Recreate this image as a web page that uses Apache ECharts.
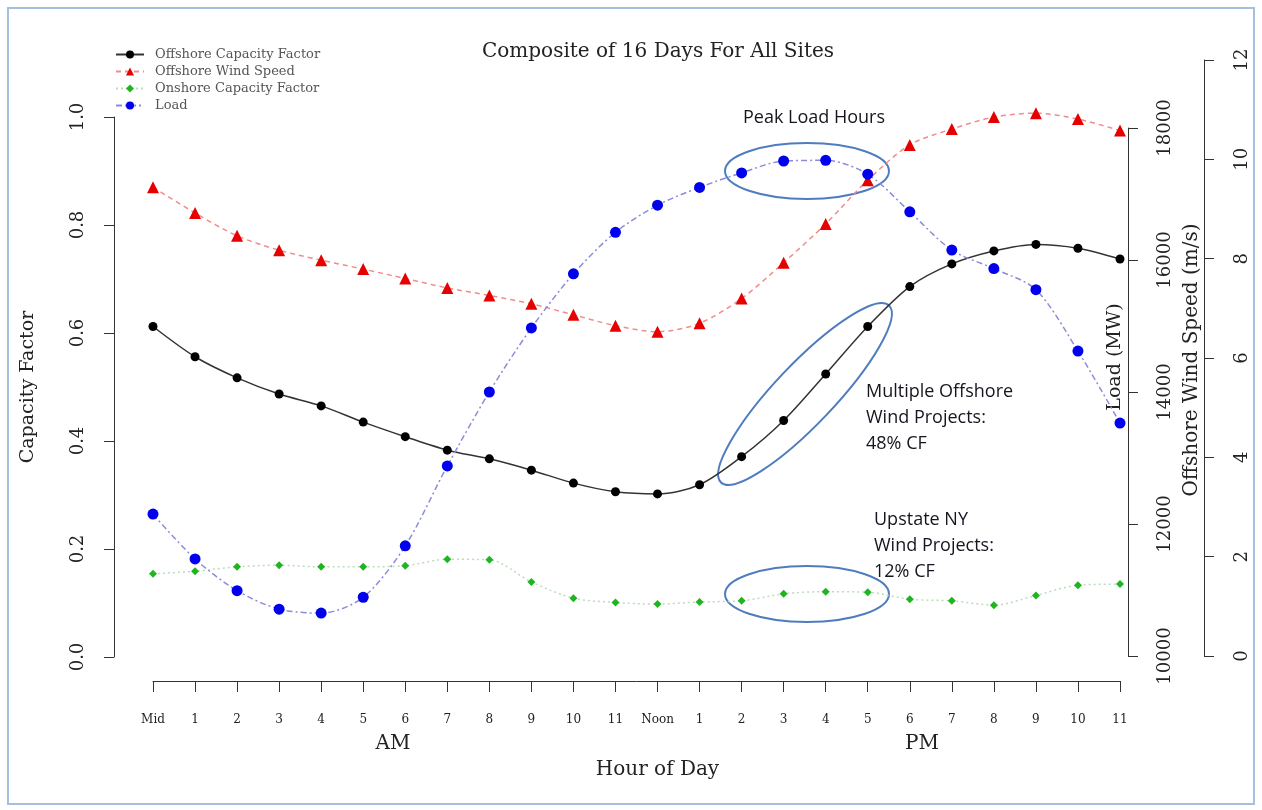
<!DOCTYPE html>
<html>
<head>
<meta charset="utf-8">
<title>Composite of 16 Days For All Sites</title>
<script src="https://cdn.jsdelivr.net/npm/echarts@6.0.0/dist/echarts.min.js"></script>
<style>
  html, body { margin: 0; padding: 0; background: #fff; }
  #chart { width: 1262px; height: 810px; }
</style>
</head>
<body>
<div id="chart"></div>
<script>
// hour of day labels, midnight to 11 PM
const hourLabels = ['Mid', '1', '2', '3', '4', '5', '6', '7', '8', '9', '10', '11',
  'Noon', '1', '2', '3', '4', '5', '6', '7', '8', '9', '10', '11']
const offshoreCF = [0.612, 0.556, 0.517, 0.487, 0.465, 0.435, 0.408, 0.383, 0.367, 0.346, 0.322, 0.306,
  0.302, 0.319, 0.371, 0.438, 0.524, 0.612, 0.686, 0.728, 0.752, 0.764, 0.757, 0.737]
const windSpeed = [9.44, 8.92, 8.46, 8.17, 7.97, 7.79, 7.60, 7.41, 7.26, 7.09, 6.87, 6.65,
  6.53, 6.70, 7.20, 7.92, 8.70, 9.58, 10.29, 10.61, 10.85, 10.93, 10.81, 10.58]
const onshoreCF = [0.154, 0.159, 0.167, 0.170, 0.167, 0.167, 0.169, 0.181, 0.180, 0.139, 0.109, 0.101,
  0.098, 0.102, 0.104, 0.117, 0.121, 0.120, 0.107, 0.104, 0.096, 0.114, 0.133, 0.135]
const loadMW = [12150, 11470, 10990, 10710, 10650, 10890, 11670, 12880, 14000, 14970, 15790, 16420,
  16830, 17100, 17320, 17500, 17510, 17300, 16730, 16150, 15870, 15550, 14620, 13530]

const serif = '"DejaVu Serif", "Liberation Serif", serif'
const sans = '"Open Sans", "Noto Sans", sans-serif'
const ink = '#222'
const ringColor = '#4f7cbf'

const toPairs = arr => arr.map((v, i) => [i, v])

// one grid per y scale, so each axis line only spans its own tick range (like R)
const grids = [
  { left: 153, right: 142, top: 117, height: 540 },
  { left: 153, right: 142, top: 128, height: 528 },
  { left: 153, right: 142, top: 60, height: 596 }
].map(g => Object.assign(g, { containLabel: false, outerBoundsMode: 'none' }))

const hiddenX = idx => ({ type: 'value', gridIndex: idx, min: 0, max: 23, show: false })

const yBase = (idx, opts) => Object.assign({
  type: 'value',
  gridIndex: idx,
  axisLine: { show: true, onZero: false, lineStyle: { color: '#333', width: 1 } },
  axisTick: { show: true, length: 10, lineStyle: { color: '#333' } },
  splitLine: { show: false },
  axisLabel: {
    rotate: 90,
    fontFamily: serif,
    fontSize: 18,
    color: ink,
    showMinLabel: true,
    showMaxLabel: true,
    formatter: v => String(v)
  }
}, opts)

const defineOption = () => {
  let option = {
    animation: false,
    backgroundColor: '#fff',
    title: {
      text: 'Composite of 16 Days For All Sites',
      left: 482,
      top: 42,
      padding: 0,
      textStyle: { fontFamily: serif, fontSize: 20, fontWeight: 'normal', color: ink }
    },
    legend: {
      orient: 'vertical',
      left: 115,
      top: 48,
      padding: 0,
      itemWidth: 28,
      itemHeight: 10,
      itemGap: 4,
      textStyle: { fontFamily: serif, fontSize: 13, color: '#555', padding: [0, 0, 0, 6] },
      data: ['Offshore Capacity Factor', 'Offshore Wind Speed', 'Onshore Capacity Factor', 'Load']
    },
    grid: grids,
    xAxis: [
      {
        type: 'value',
        gridIndex: 0,
        min: 0,
        max: 23,
        interval: 1,
        offset: 24,
        axisLine: { show: true, onZero: false, lineStyle: { color: '#333', width: 1 } },
        axisTick: { show: true, length: 11, lineStyle: { color: '#333' } },
        splitLine: { show: false },
        axisLabel: {
          fontFamily: serif,
          fontSize: 12,
          color: ink,
          margin: 33,
          showMinLabel: true,
          showMaxLabel: true,
          formatter: v => hourLabels[v]
        },
        name: 'Hour of Day',
        nameLocation: 'middle',
        nameGap: 79,
        nameTextStyle: { fontFamily: serif, fontSize: 20, color: ink, padding: [0, 0, 0, 42] }
      },
      hiddenX(1),
      hiddenX(2)
    ],
    yAxis: [
      yBase(0, {
        position: 'left',
        offset: 39,
        min: 0,
        max: 1,
        interval: 0.2,
        axisLabel: Object.assign(yBase(0).axisLabel, { margin: 27, formatter: v => v.toFixed(1) }),
        name: 'Capacity Factor',
        nameLocation: 'middle',
        nameRotate: 90,
        nameGap: 76,
        nameTextStyle: { fontFamily: serif, fontSize: 19, color: ink }
      }),
      yBase(1, {
        position: 'right',
        offset: 8,
        min: 10000,
        max: 18000,
        interval: 2000,
        axisLabel: Object.assign(yBase(1).axisLabel, { margin: 28 })
      }),
      yBase(2, {
        position: 'right',
        offset: 84,
        min: 0,
        max: 12,
        interval: 2,
        axisLabel: Object.assign(yBase(2).axisLabel, { margin: 29 })
      })
    ],
    graphic: [
      // slide frame
      { type: 'rect', silent: true, shape: { x: 8, y: 8, width: 1246, height: 796 },
        style: { fill: 'none', stroke: '#a6bfdf', lineWidth: 2 } },
      // right axis titles
      { type: 'text', x: 1115, y: 357, rotation: Math.PI / 2,
        style: { text: 'Load (MW)', fontFamily: serif, fontSize: 19, fill: ink, align: 'center', verticalAlign: 'middle' } },
      { type: 'text', x: 1192, y: 360, rotation: Math.PI / 2,
        style: { text: 'Offshore Wind Speed (m/s)', fontFamily: serif, fontSize: 20, fill: ink, align: 'center', verticalAlign: 'middle' } },
      // AM / PM under the hour labels
      { type: 'text', x: 393, y: 744,
        style: { text: 'AM', fontFamily: serif, fontSize: 20, fill: ink, align: 'center', verticalAlign: 'middle' } },
      { type: 'text', x: 922, y: 744,
        style: { text: 'PM', fontFamily: serif, fontSize: 20, fill: ink, align: 'center', verticalAlign: 'middle' } },
      // callouts
      { type: 'ellipse', silent: true, x: 807, y: 171, shape: { cx: 0, cy: 0, rx: 82, ry: 28 },
        style: { fill: 'none', stroke: ringColor, lineWidth: 2 } },
      { type: 'ellipse', silent: true, x: 805, y: 394, rotation: 46.5 * Math.PI / 180, shape: { cx: 0, cy: 0, rx: 122, ry: 30 },
        style: { fill: 'none', stroke: ringColor, lineWidth: 2 } },
      { type: 'ellipse', silent: true, x: 807, y: 594, shape: { cx: 0, cy: 0, rx: 82, ry: 28 },
        style: { fill: 'none', stroke: ringColor, lineWidth: 2 } },
      { type: 'text', x: 743, y: 118,
        style: { text: 'Peak Load Hours', fontFamily: sans, fontSize: 18, fill: '#151520', verticalAlign: 'middle' } },
      { type: 'text', x: 866, y: 379,
        style: { text: 'Multiple Offshore\nWind Projects:\n48% CF', fontFamily: sans, fontSize: 18, lineHeight: 26, fill: '#151520', verticalAlign: 'top' } },
      { type: 'text', x: 874, y: 507,
        style: { text: 'Upstate NY\nWind Projects:\n12% CF', fontFamily: sans, fontSize: 18, lineHeight: 26, fill: '#151520', verticalAlign: 'top' } }
    ],
    series: [
      {
        name: 'Offshore Capacity Factor',
        type: 'line',
        xAxisIndex: 0,
        yAxisIndex: 0,
        smooth: 0.3,
        symbol: 'circle',
        symbolSize: 9,
        itemStyle: { color: '#000' },
        lineStyle: { color: '#333', width: 1.5 },
        data: toPairs(offshoreCF)
      },
      {
        name: 'Offshore Wind Speed',
        type: 'line',
        xAxisIndex: 2,
        yAxisIndex: 2,
        smooth: 0.3,
        symbol: 'triangle',
        symbolSize: 12,
        itemStyle: { color: '#e60000' },
        lineStyle: { color: '#f08c8c', width: 1.5, type: [5, 4] },
        data: toPairs(windSpeed)
      },
      {
        name: 'Onshore Capacity Factor',
        type: 'line',
        xAxisIndex: 0,
        yAxisIndex: 0,
        smooth: 0.3,
        symbol: 'diamond',
        symbolSize: 8,
        itemStyle: { color: '#1fb51f' },
        lineStyle: { color: '#bcdcbc', width: 1.5, type: [2, 3] },
        data: toPairs(onshoreCF)
      },
      {
        name: 'Load',
        type: 'line',
        xAxisIndex: 1,
        yAxisIndex: 1,
        smooth: 0.3,
        symbol: 'circle',
        symbolSize: 11,
        itemStyle: { color: '#0000ee' },
        lineStyle: { color: '#8c8cd8', width: 1.5, type: [6, 3, 2, 3] },
        data: toPairs(loadMW)
      }
    ]
  }
  return option
}

let myChart = echarts.init(document.getElementById('chart'), null, { renderer: 'canvas' })
myChart.setOption(defineOption())
</script>
</body>
</html>
